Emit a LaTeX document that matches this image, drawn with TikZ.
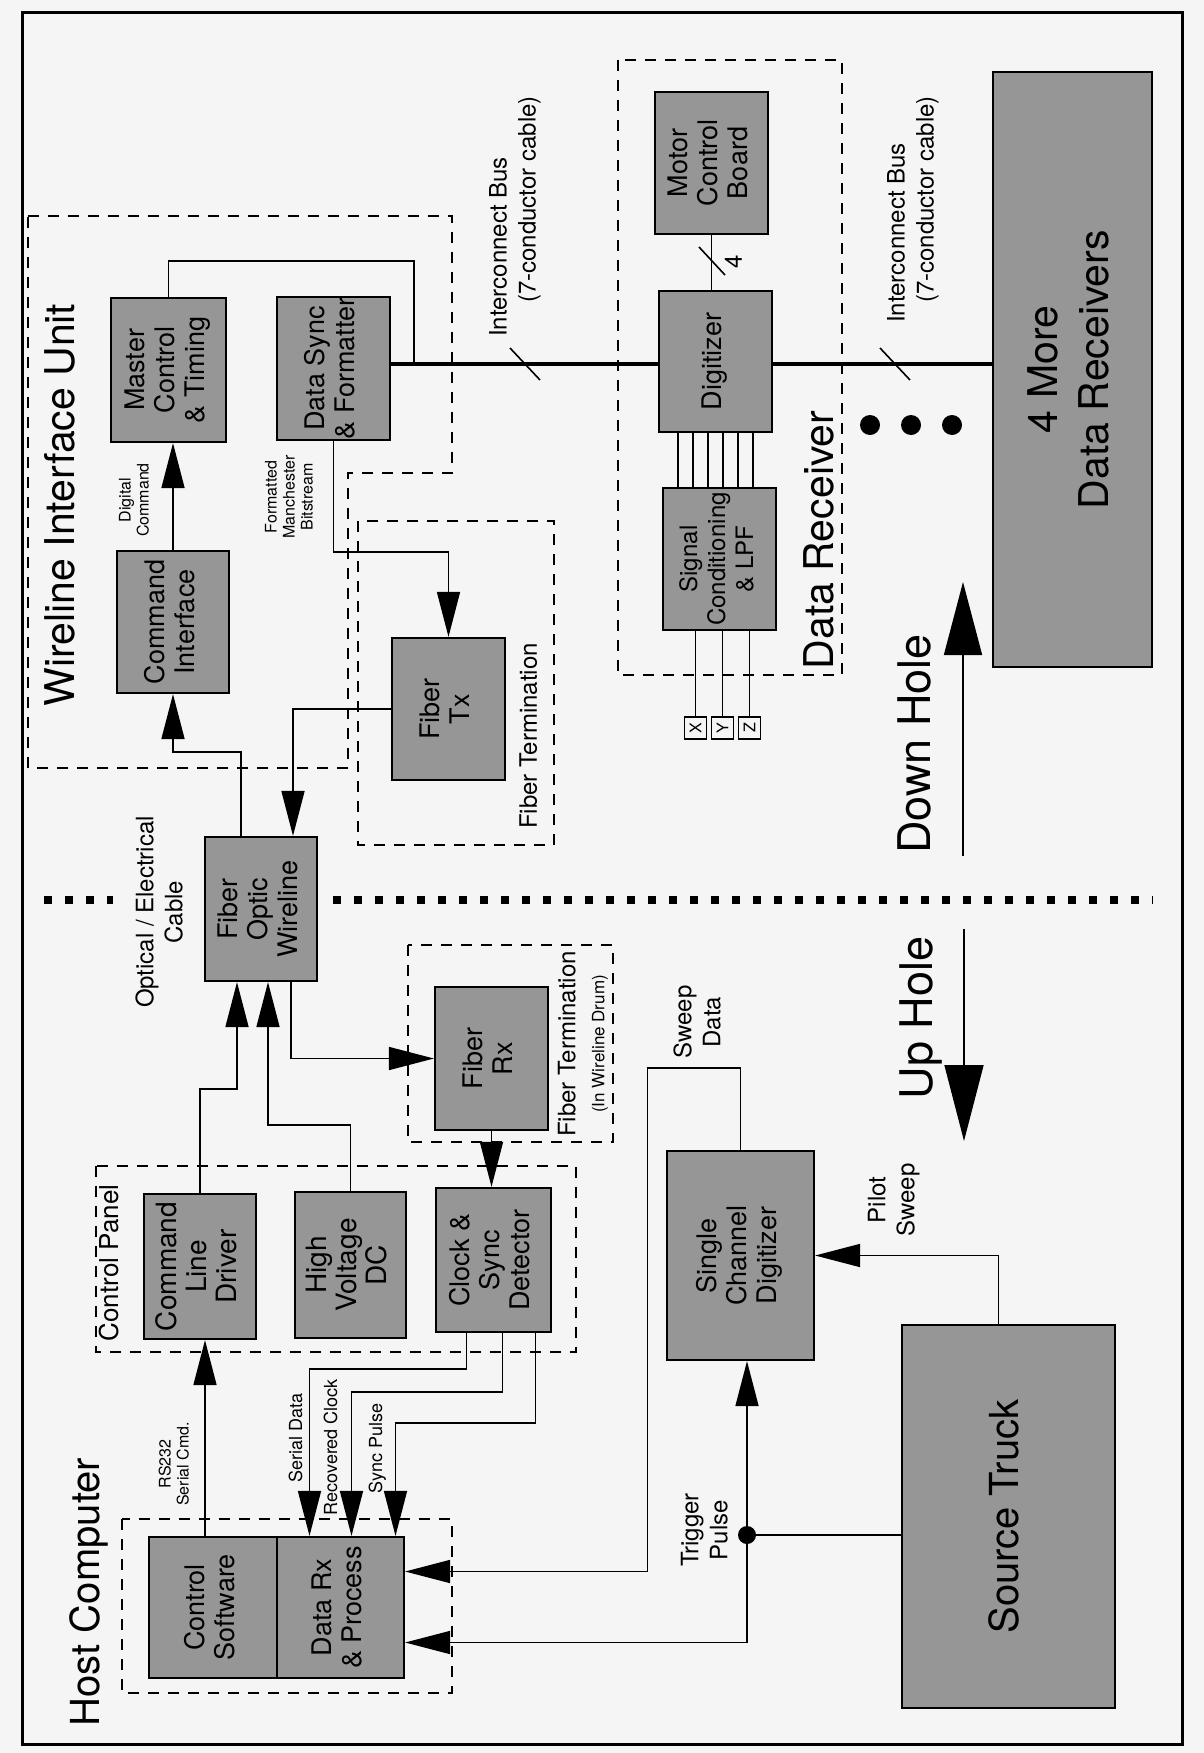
\documentclass[tikz,border=0pt]{standalone}
\usepackage{fontspec}
\setmainfont{TeX Gyre Heros}
\usepackage{graphicx}
\usetikzlibrary{arrows.meta}
\definecolor{paper}{RGB}{245,245,245}
\definecolor{halftone}{RGB}{150,150,150}
\newcommand{\vtext}[1]{\rotatebox{90}{\begin{tabular}{@{}c@{}}#1\end{tabular}}}
\newcommand{\vleft}[1]{\rotatebox{90}{\begin{tabular}{@{}l@{}}#1\end{tabular}}}
\begin{document}
\begin{tikzpicture}[x=1pt,y=-1pt,
  blk/.style={draw,line width=2.2pt,fill=halftone,inner sep=0pt,font=\fontsize{27}{30}\selectfont},
  sz/.style 2 args={minimum width=#1pt,minimum height=#2pt},
  wire/.style={line width=1.6pt},
  bigarrow/.style={wire,-{Triangle[length=45pt,width=23pt]}},
  grp/.style={draw,line width=2pt,dash pattern=on 11pt off 9pt},
  bigtxt/.style={inner sep=0pt,font=\fontsize{41}{50}\selectfont},
  midtxt/.style={inner sep=0pt,font=\fontsize{24}{29}\selectfont},
  smalltxt/.style={inner sep=0pt,font=\fontsize{16}{18}\selectfont}]
  \fill[paper] (0,0) rectangle (1204,1753);
  \useasboundingbox (0,0) rectangle (1204,1753);
  \draw[line width=3pt] (22,13) rectangle (1182,1744);

  \node[blk,sz={115}{144}] (mct) at (168.5,370) {\vtext{Master\\Control\\\& Timing}};
  \node[blk,sz={113}{143}] (dsf) at (333.5,368.5) {\vtext{Data Sync\\\& Formatter}};
  \node[blk,sz={112}{142}] (cif) at (173,622) {\vtext{Command\\Interface}};
  \node[blk,sz={113}{142}] (ftx) at (448.5,709) {\vtext{Fiber\\Tx}};
  \node[blk,sz={112}{144}] (fow) at (261,909) {\vtext{Fiber\\Optic\\Wireline}};
  \node[blk,sz={113}{143}] (frx) at (491.5,1058.5) {\vtext{Fiber\\Rx}};
  \node[blk,sz={112}{145},font=\fontsize{28}{30}\selectfont] (cld) at (200,1266.5) {\vtext{Command\\Line\\Driver}};
  \node[blk,sz={111}{146},font=\fontsize{28}{30}\selectfont] (hvdc) at (350.5,1265) {\vtext{High\\Voltage\\DC}};
  \node[blk,sz={115}{144}] (csd) at (493.5,1260) {\vtext{Clock \&\\Sync\\Detector}};
  \node[blk,sz={128}{141}] (csw) at (213,1607.5) {\vtext{Control\\Software}};
  \node[blk,sz={127}{141}] (drp) at (340.5,1607.5) {\vtext{Data Rx\\\& Process}};
  \node[blk,sz={113}{142}] (mcb) at (711.5,163) {\vtext{Motor\\Control\\Board}};
  \node[blk,sz={113}{141}] (dig) at (715.5,361.5) {\vtext{Digitizer}};
  \node[blk,sz={113}{142},font=\fontsize{24}{28}\selectfont] (scl) at (719.5,559) {\vtext{Signal\\Conditioning\\\& LPF}};
  \node[blk,sz={147}{209}] (scd) at (740.5,1255.5) {\vtext{Single\\Channel\\Digitizer}};
  \node[blk,sz={213}{383},font=\fontsize{40}{48}\selectfont] (trk) at (1008.5,1516.5) {\vtext{Source Truck}};
  \node[blk,sz={159}{595},font=\fontsize{41}{51}\selectfont] (more) at (1072.5,369.5) {\vtext{4 More\\Data Receivers}};

  \draw[grp] (28,216) -- (452,216) -- (452,473) -- (348,473) -- (348,768) -- (28,768) -- cycle;
  \draw[grp] (358,521) rectangle (554,845);
  \draw[grp] (408,945) rectangle (613,1142);
  \draw[grp] (96,1166) rectangle (576,1352);
  \draw[grp] (122,1519) rectangle (452,1693);
  \draw[grp] (618,60) rectangle (842,675);

  \node[bigtxt] (wiut) at (64,505) {\vtext{Wireline Interface Unit}};
  \node[midtxt] (ft1) at (531,736) {\vtext{Fiber Termination}};
  \node[midtxt] (ft2) at (584,1044) {\vtext{Fiber Termination\\{\fontsize{17}{19}\selectfont (In Wireline Drum)}}};
  \node[inner sep=0pt,font=\fontsize{26}{30}\selectfont] (cpt) at (112,1263) {\vtext{Control Panel}};
  \node[inner sep=0pt,font=\fontsize{40}{48}\selectfont] (hct) at (90,1592) {\vtext{Host Computer}};
  \node[bigtxt] (drt) at (823,540) {\vtext{Data Receiver}};

  \node[midtxt,anchor=south west] (ib1) at (486,337) {\vleft{Interconnect Bus\\\hspace*{34pt}(7-conductor cable)}};
  \node[midtxt,anchor=south west] (ib2) at (884,323) {\vleft{Interconnect Bus\\\hspace*{20pt}(7-conductor cable)}};
  \node[midtxt] (oec) at (162,912) {\vtext{Optical / Electrical\\Cable}};
  \node[smalltxt] (dct) at (136,500) {\vtext{Digital\\Command}};
  \node[smalltxt] (fmb) at (291,497) {\vtext{Formatted\\Manchester\\Bitstream}};
  \node[smalltxt] (rsc) at (176,1464) {\vtext{RS232\\Serial Cmd.}};
  \node[smalltxt,font=\fontsize{18}{20}\selectfont] (sdt) at (298,1438) {\vtext{Serial Data}};
  \node[smalltxt,font=\fontsize{18}{20}\selectfont] (rct) at (333,1447) {\vtext{Recovered Clock}};
  \node[smalltxt,font=\fontsize{18}{20}\selectfont] (spt) at (378,1448) {\vtext{Sync Pulse}};
  \node[midtxt] (swd) at (700,1022) {\vtext{Sweep\\Data}};
  \node[midtxt] (tpl) at (707,1530) {\vtext{Trigger\\Pulse}};
  \node[midtxt] (psw) at (894,1200) {\vtext{Pilot\\Sweep}};
  \node[midtxt] (four) at (736,262) {\vtext{4}};
  \node[inner sep=0pt,font=\fontsize{45}{52}\selectfont] (dht) at (920,744) {\vtext{Down Hole}};
  \node[inner sep=0pt,font=\fontsize{45}{52}\selectfont] (uht) at (922,1018) {\vtext{Up Hole}};

  \coordinate (busy) at (0,364);
  \draw[line width=4.5pt] (dsf.east |- busy) -- (dig.west |- busy);
  \draw[line width=4.5pt] (dig.east |- busy) -- (more.west |- busy);
  \coordinate (mctbus) at (414,364);
  \draw[wire] (mct.north) -- ++(0,-36) -| (mctbus);
  \coordinate (cut1) at (525,364);
  \coordinate (cut2) at (895,364);
  \foreach \c in {cut1,cut2}
    \draw[wire] ([shift={(-15,-16)}]\c) -- ([shift={(15,16)}]\c);

  \draw[wire] (mcb.south) -- (mcb.south |- dig.north);
  \coordinate (cut3) at (712,261);
  \draw[wire] ([shift={(-13,-14)}]cut3) -- ([shift={(13,14)}]cut3);

  \foreach \dx in {-37.5,-22.5,-7.5,7.5,22.5,37.5}
    \draw[wire] ([xshift=\dx pt]dig.south) -- ([xshift=\dx pt]dig.south |- scl.north);
  \foreach \nm/\t/\x in {xb/X/695.5,yb/Y/722.5,zb/Z/749.5} {
    \node[draw,line width=1.2pt,fill=paper,minimum size=22pt,inner sep=0pt,
      font=\fontsize{16}{18}\selectfont] (\nm) at (\x,728) {\rotatebox{90}{\t}};
    \draw[wire] (\nm.north |- scl.south) -- (\nm.north);
  }

  \draw[bigarrow] (cif.north) -- (cif.north |- mct.south);
  \draw[bigarrow] (dsf.south) -- ++(0,111) -| (ftx.north);
  \draw[bigarrow] (ftx.west) -| ([xshift=32pt]fow.north);
  \draw[bigarrow] ([xshift=-20pt]fow.north) -- ++(0,-84) -| (cif.south);
  \draw[bigarrow] ([xshift=30pt]fow.south) |- (frx.west);
  \draw[bigarrow] (frx.south) -- (frx.south |- csd.north);
  \draw[bigarrow] (cld.north) -- ++(0,-104) -| ([xshift=-24pt]fow.south);
  \draw[bigarrow] (hvdc.north) -- ++(0,-66) -| ([xshift=7pt]fow.south);
  \draw[bigarrow] ([xshift=-8pt]csw.north) -- ([xshift=-8pt]csw.north |- cld.south);
  \draw[bigarrow] ([xshift=-27pt]csd.south) -- ++(0,36) -| ([xshift=-31pt]drp.north);
  \draw[bigarrow] ([xshift=9pt]csd.south) -- ++(0,59) -| ([xshift=11pt]drp.north);
  \draw[bigarrow] ([xshift=42pt]csd.south) -- ++(0,90) -| ([xshift=55pt]drp.north);
  \draw[bigarrow] (scd.north) -- ++(0,-82) -- ++(-93,0) |- ([yshift=36pt]drp.east);
  \coordinate (trig) at (747,1535);
  \draw[wire] (trk.west |- trig) -- (trig);
  \draw[bigarrow] (trig) -- (trig |- scd.south);
  \draw[bigarrow] (trig) |- ([yshift=-35pt]drp.east);
  \fill (trig) circle (9pt);
  \draw[bigarrow] ([xshift=-10pt]trk.north) |- (scd.east);

  \foreach \x in {870,911,952}
    \fill (\x,425) circle (10pt);
  \draw[line width=8pt,dash pattern=on 8pt off 13pt] (44,900) -- (113,900);
  \draw[line width=8pt,dash pattern=on 8pt off 13pt] (333,900) -- (1153,900);

  \coordinate (dhs) at (963,856);
  \coordinate (dhe) at (963,582);
  \draw[wire,-{Triangle[length=73pt,width=38pt]}] (dhs) -- (dhe);
  \coordinate (uhs) at (964,929);
  \coordinate (uhe) at (964,1141);
  \draw[wire,-{Triangle[length=76pt,width=39pt]}] (uhs) -- (uhe);
\end{tikzpicture}
\end{document}
